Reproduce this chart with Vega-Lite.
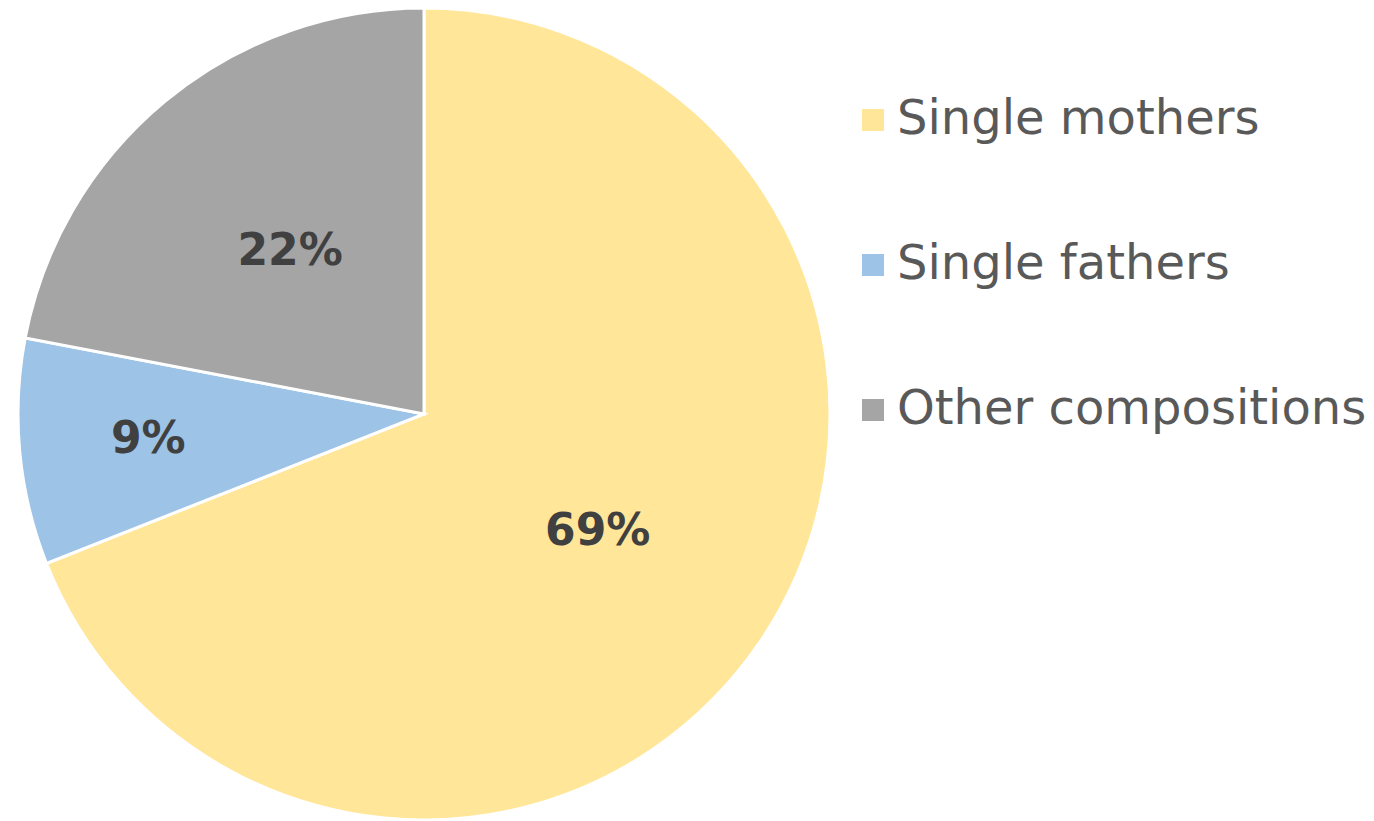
{
  "$schema": "https://vega.github.io/schema/vega-lite/v6.json",
  "width": 848,
  "height": 828,
  "padding": 0,
  "autosize": {"type": "pad"},
  "background": "white",
  "config": {"view": {"stroke": null}, "font": "DejaVu Sans"},
  "data": {
    "values": [
      {"group": "Single mothers", "share": 0.69},
      {"group": "Single fathers", "share": 0.09},
      {"group": "Other compositions", "share": 0.22}
    ]
  },
  "encoding": {
    "theta": {"field": "share", "type": "quantitative", "stack": true},
    "order": {"field": "group", "type": "nominal", "sort": "descending"},
    "color": {
      "field": "group",
      "type": "nominal",
      "sort": ["Single mothers", "Single fathers", "Other compositions"],
      "scale": {
        "domain": ["Single mothers", "Single fathers", "Other compositions"],
        "range": ["#FFE699", "#9DC3E6", "#A5A5A5"]
      },
      "legend": {
        "title": null,
        "orient": "none",
        "legendX": 849,
        "legendY": 96,
        "symbolType": "square",
        "symbolSize": 484,
        "symbolStrokeWidth": 0,
        "symbolOpacity": 1,
        "labelFontSize": 48,
        "labelColor": "#595959",
        "labelFont": "DejaVu Sans",
        "labelOffset": 0,
        "rowPadding": 97,
        "labelLimit": 600
      }
    }
  },
  "layer": [
    {
      "mark": {"type": "arc", "outerRadius": 406, "stroke": "white", "strokeWidth": 3}
    },
    {
      "mark": {"type": "text", "radius": 210, "fontSize": 44, "fontWeight": "bold", "font": "DejaVu Sans"},
      "encoding": {
        "text": {
          "condition": {"test": "datum.group !== 'Single fathers'", "field": "share", "type": "quantitative", "format": ".0%"},
          "value": ""
        },
        "color": {"value": "#404040"}
      }
    },
    {
      "mark": {"type": "text", "radius": 277, "fontSize": 44, "fontWeight": "bold", "font": "DejaVu Sans"},
      "encoding": {
        "text": {
          "condition": {"test": "datum.group === 'Single fathers'", "field": "share", "type": "quantitative", "format": ".0%"},
          "value": ""
        },
        "color": {"value": "#404040"}
      }
    }
  ]
}
